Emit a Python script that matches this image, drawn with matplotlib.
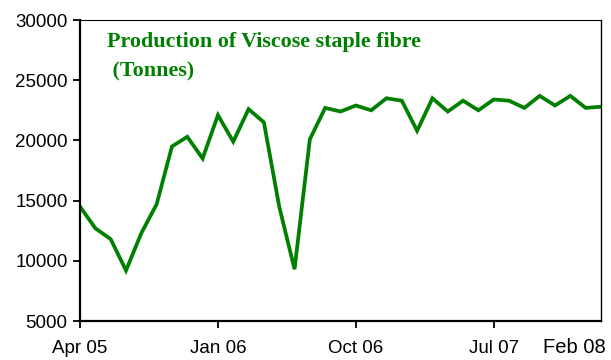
import numpy as np
import matplotlib.pyplot as plt

# Monthly production, Apr 05 .. Feb 08 (tonnes)
months = ['Apr 05', 'May 05', 'Jun 05', 'Jul 05', 'Aug 05', 'Sep 05', 'Oct 05',
          'Nov 05', 'Dec 05', 'Jan 06', 'Feb 06', 'Mar 06', 'Apr 06', 'May 06',
          'Jun 06', 'Jul 06', 'Aug 06', 'Sep 06', 'Oct 06', 'Nov 06', 'Dec 06',
          'Jan 07', 'Feb 07', 'Mar 07', 'Apr 07', 'May 07', 'Jun 07', 'Jul 07',
          'Aug 07', 'Sep 07', 'Oct 07', 'Nov 07', 'Dec 07', 'Jan 08', 'Feb 08']
production = [14500, 12700, 11800, 9200, 12300, 14700, 19500, 20300, 18500,
              22100, 19900, 22600, 21500, 14500, 9300, 20100, 22700, 22400,
              22900, 22500, 23500, 23300, 20800, 23500, 22400, 23300, 22500,
              23400, 23300, 22700, 23700, 22900, 23700, 22700, 22800]
tick_labels = ['Apr 05', 'Jan 06', 'Oct 06', 'Jul 07']
yticks = [5000, 10000, 15000, 20000, 25000, 30000]

green = '#008000'
x = np.arange(len(months))

fig = plt.figure(figsize=(6.11, 3.6), dpi=100)
ax = fig.add_axes([0.131, 0.1083, 0.8526, 0.8361])
ax.plot(x, production, color=green, linewidth=2.7, solid_joinstyle='miter')

ax.set_xlim(0, len(months) - 1)
ax.set_ylim(5000, 30000)
ax.set_yticks(yticks)
ax.set_xticks([months.index(m) for m in tick_labels])
ax.set_xticklabels(tick_labels)

for lab in ax.get_xticklabels() + ax.get_yticklabels():
    lab.set_fontfamily('Liberation Sans')
    lab.set_fontsize(13.5)
ax.tick_params(axis='both', direction='out', length=5, width=1.3, color='black')
ax.tick_params(axis='x', pad=9)
ax.tick_params(axis='y', pad=4)

ax.spines['left'].set_linewidth(1.6)
ax.spines['bottom'].set_linewidth(1.6)
ax.spines['top'].set_linewidth(0.8)
ax.spines['right'].set_linewidth(1.0)

# last month label sits at the right edge, no tick
ax.text(0.949, -0.088, 'Feb 08', transform=ax.transAxes, ha='center', va='center',
        fontfamily='Liberation Sans', fontsize=14.5)

ax.text(0.052, 0.96, 'Production of Viscose staple fibre\n (Tonnes)',
        transform=ax.transAxes, ha='left', va='top', color=green,
        fontfamily='Liberation Serif', fontweight='bold', fontsize=15.8,
        linespacing=1.6)

fig.savefig('out.png', dpi=100)
